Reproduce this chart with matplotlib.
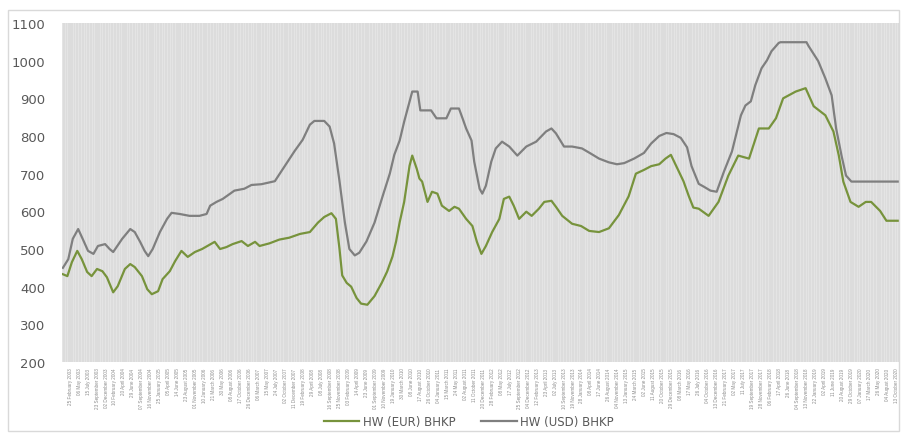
import matplotlib.pyplot as plt
import matplotlib.patches as mpatches
from matplotlib.ticker import MultipleLocator
import pandas as pd

# Semanas (índice semanal, martes) y precios BHKP
w_usd = [-8, -2, 3, 9, 14, 20, 26, 31, 39, 44, 48, 58, 67, 72, 78, 83, 87, 92,
         100, 108, 113, 122, 133, 144, 152, 156, 163, 170, 183, 194, 202, 213,
         228, 239, 250, 259, 267, 272, 283, 289, 294, 300, 306, 311, 317, 322,
         330, 339, 348, 356, 361, 367, 372, 381, 387, 390, 402, 408, 419, 424,
         433, 437, 441, 447, 450, 456, 459, 463, 469, 474, 481, 489, 498, 508,
         519, 530, 536, 541, 550, 559, 570, 580, 589, 600, 609, 617, 628, 639,
         647, 656, 664, 672, 680, 687, 692, 700, 706, 713, 720, 728, 737, 747,
         752, 758, 763, 770, 776, 781, 789, 791, 820, 822, 833, 841, 848, 853,
         859, 864, 870, 922]
usd = [450, 473, 527, 553, 527, 495, 487, 508, 513, 500, 492, 527, 553, 545,
       519, 495, 481, 500, 545, 580, 596, 593, 588, 588, 593, 615, 625, 633,
       655, 660, 670, 672, 680, 720, 760, 790, 830, 840, 840, 825, 780, 680,
       570, 500, 483, 490, 520, 570, 640, 700, 750, 788, 838, 918, 918, 868,
       868, 847, 847, 873, 873, 847, 820, 788, 732, 660, 647, 668, 732, 767,
       785, 772, 748, 772, 785, 812, 820, 807, 772, 772, 767, 753, 740, 730,
       725, 728, 740, 755, 780, 800, 808, 805, 795, 770, 720, 673, 665, 655,
       652, 705, 759, 855, 881, 892, 935, 980, 1001, 1025, 1047, 1049, 1049,
       1040, 999, 953, 908, 820, 748, 695, 679, 679]

w_eur = [-8, -3, 2, 8, 13, 19, 24, 30, 36, 41, 48, 53, 61, 67, 72, 80, 86, 91,
         98, 103, 111, 117, 124, 131, 139, 147, 153, 161, 167, 174, 181, 191,
         198, 206, 211, 222, 233, 244, 256, 267, 276, 283, 291, 296, 300, 303,
         308, 313, 319, 324, 331, 339, 347, 353, 359, 363, 367, 372, 378, 381,
         386, 389, 392, 398, 403, 409, 414, 422, 428, 433, 441, 448, 453, 458,
         463, 470, 478, 483, 489, 494, 500, 508, 514, 522, 528, 536, 541, 548,
         559, 569, 578, 589, 600, 611, 622, 630, 639, 647, 656, 663, 669, 676,
         683, 689, 694, 700, 711, 722, 733, 744, 756, 767, 778, 786, 794, 808,
         819, 828, 841, 850, 856, 861, 869, 878, 886, 892, 902, 909, 919, 922]
eur = [433, 428, 465, 495, 473, 439, 428, 447, 441, 425, 385, 401, 447, 460,
       452, 428, 393, 380, 388, 420, 441, 468, 495, 479, 492, 500, 508, 519,
       500, 505, 513, 521, 508, 519, 508, 515, 525, 530, 540, 545, 570, 585,
       595, 580, 500, 430, 410, 400, 370, 355, 352, 375, 410, 440, 480, 520,
       571, 625, 721, 748, 713, 687, 679, 625, 652, 647, 615, 601, 612, 607,
       580, 561, 519, 487, 508, 545, 580, 633, 639, 615, 580, 599, 588, 607,
       625, 628, 612, 588, 567, 561, 548, 545, 555, 590, 640, 700, 710, 720,
       725, 740, 750, 715, 680, 640, 610, 607, 588, 625, 695, 748, 740, 820,
       820, 847, 900, 918, 927, 879, 855, 812, 748, 679, 625, 612, 625, 625,
       601, 575, 575, 575]

# Etiquetas del eje x: cada 10 semanas
fechas = pd.date_range('2003-02-25', '2020-10-13', freq='70D')
etiquetas = [f.strftime('%d %B %Y') for f in fechas]
pos_etq = list(range(0, 10 * len(fechas), 10))

fig = plt.figure(figsize=(9.01, 4.35), dpi=100)
fig.patches.append(mpatches.Rectangle((8 / 901, 3 / 435), 891 / 901, 421 / 435,
                                      transform=fig.transFigure, fill=False,
                                      edgecolor='#d9d9d9', lw=1))
ax = fig.add_axes([62 / 901, 1 - 363 / 435, 837 / 901, 339 / 435])
ax.set_facecolor('#dcdcdc')

ax.plot(w_eur, eur, color='#77933c', lw=1.6, label='HW (EUR) BHKP', zorder=3)
ax.plot(w_usd, usd, color='#7f7f7f', lw=1.6, label='HW (USD) BHKP', zorder=3)

ax.set_xlim(-9, 923)
ax.set_ylim(200, 1100)
ax.set_yticks(range(200, 1101, 100))
ax.set_xticks(pos_etq)
ax.set_xticklabels(etiquetas, rotation=90, fontsize=3.3, color='#8c8c8c',
                   family='Liberation Sans')
ax.xaxis.set_minor_locator(MultipleLocator(3))
ax.grid(which='minor', axis='x', color='#e8e8e8', lw=0.5, zorder=1)
ax.tick_params(axis='both', which='both', length=0)
ax.tick_params(axis='y', labelsize=9.5, labelcolor='#595959', pad=12)
ax.tick_params(axis='x', pad=4)
for s in ax.spines.values():
    s.set_visible(False)

ax.legend(loc='upper center', bbox_to_anchor=(0.486, -0.125), ncol=2, frameon=False,
          fontsize=8.5, labelcolor='#595959', handlelength=3.0, handletextpad=0.3,
          columnspacing=2.2)

fig.savefig('out.png', dpi=100)
